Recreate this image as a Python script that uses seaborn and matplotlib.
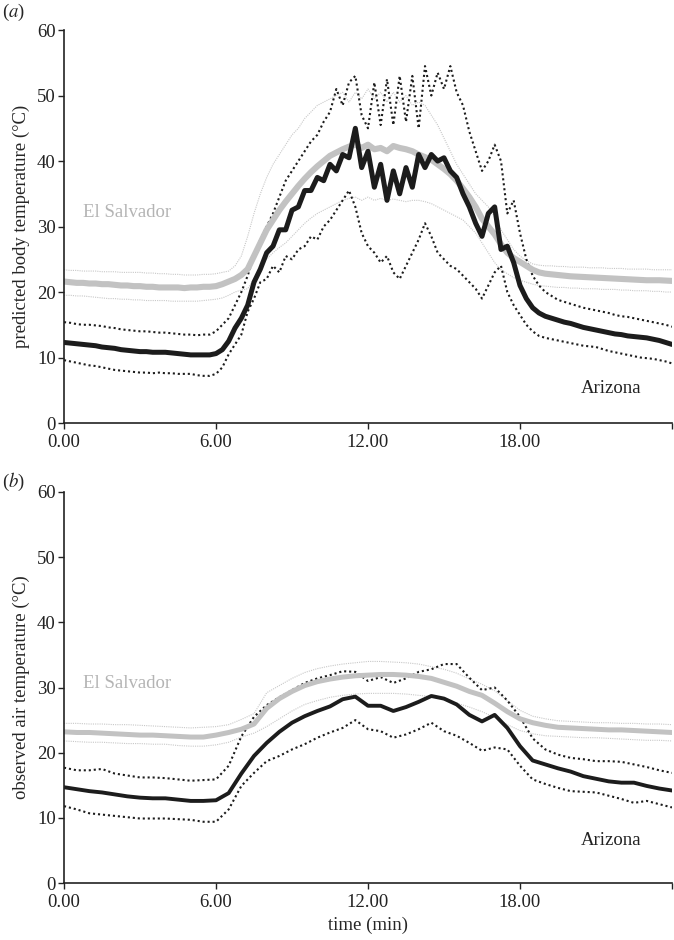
import numpy as np
import pandas as pd
import matplotlib
matplotlib.use("Agg")
import matplotlib.pyplot as plt
from matplotlib import font_manager
import seaborn as sns

# ── time grids (hours) ─────────────────────────
hours_a = np.arange(0, 24.01, 0.25)
hours_b = np.arange(0, 24.01, 0.5)

# ── (a) predicted body temperature ─────────────
az_mean_a = [12.3, 12.2, 12.1, 12.0, 11.9, 11.8, 11.6, 11.5, 11.4, 11.2, 11.1, 11.0,
             10.9, 10.9, 10.8, 10.8, 10.8, 10.7, 10.6, 10.5, 10.4, 10.4, 10.4, 10.4,
             10.6, 11.2, 12.5, 14.5, 16.0, 18.0, 21.5, 23.5, 26.0, 27.0, 29.5, 29.5,
             32.5, 33.0, 35.5, 35.5, 37.5, 37.0, 39.5, 38.5, 41.0, 40.5, 45.0, 39.0,
             41.5, 36.0, 39.5, 34.0, 38.5, 35.0, 39.0, 36.0, 41.0, 39.0, 41.0, 40.0,
             40.5, 38.5, 37.5, 35.0, 33.0, 30.5, 28.5, 32.0, 33.0, 26.5, 27.0, 24.5,
             21.0, 19.0, 17.6, 16.8, 16.3, 16.0, 15.7, 15.4, 15.2, 14.9, 14.6, 14.4,
             14.2, 14.0, 13.8, 13.6, 13.5, 13.3, 13.2, 13.1, 13.0, 12.8, 12.6, 12.3, 12.0]
az_hi_a = [15.4, 15.3, 15.1, 15.0, 15.0, 14.9, 14.8, 14.6, 14.5, 14.3, 14.2, 14.1,
           14.0, 14.0, 13.9, 13.8, 13.8, 13.7, 13.6, 13.5, 13.5, 13.4, 13.5, 13.5,
           14.0, 15.0, 16.0, 18.0, 20.0, 22.5, 25.5, 28.0, 30.0, 32.0, 34.5, 37.0,
           38.5, 40.0, 41.5, 43.0, 44.0, 46.0, 47.5, 51.0, 48.5, 52.0, 53.0, 47.0,
           45.0, 52.0, 45.5, 52.5, 45.5, 53.0, 46.0, 53.0, 45.0, 54.5, 50.0, 53.5,
           51.0, 54.5, 50.5, 48.5, 44.5, 41.5, 38.5, 40.0, 42.5, 40.0, 32.0, 34.0,
           29.0, 25.0, 22.5, 21.0, 20.0, 19.4, 18.8, 18.5, 18.2, 17.9, 17.6, 17.4,
           17.2, 17.0, 16.8, 16.5, 16.3, 16.2, 16.0, 15.8, 15.6, 15.4, 15.2, 15.0, 14.7]
az_lo_a = [9.6, 9.4, 9.2, 9.0, 8.8, 8.7, 8.5, 8.3, 8.1, 8.0, 7.9, 7.8,
           7.7, 7.7, 7.6, 7.7, 7.6, 7.6, 7.5, 7.5, 7.5, 7.3, 7.2, 7.2,
           7.5, 8.5, 10.5, 12.0, 13.5, 17.0, 19.0, 21.5, 22.0, 24.0, 23.0, 25.5,
           25.0, 26.5, 27.0, 28.5, 28.0, 30.0, 31.0, 32.5, 34.0, 35.5, 33.0, 29.0,
           27.0, 26.0, 24.5, 25.5, 23.0, 22.0, 24.0, 26.0, 28.0, 30.5, 28.5, 26.0,
           25.0, 24.0, 23.5, 22.5, 21.5, 20.5, 19.0, 21.0, 23.0, 24.0, 20.0, 18.0,
           16.5, 15.0, 14.0, 13.3, 13.0, 12.8, 12.6, 12.4, 12.2, 12.0, 11.8, 11.7,
           11.6, 11.3, 11.0, 10.8, 10.6, 10.4, 10.2, 10.0, 9.9, 9.8, 9.6, 9.4, 9.1]
es_mean_a = [21.6, 21.5, 21.4, 21.4, 21.3, 21.3, 21.2, 21.2, 21.1, 21.0, 21.0, 20.9,
             20.9, 20.8, 20.8, 20.7, 20.7, 20.7, 20.7, 20.6, 20.7, 20.7, 20.8, 20.8,
             20.9, 21.2, 21.6, 22.0, 22.6, 23.5, 25.5, 27.5, 29.5, 31.0, 32.5, 33.8,
             35.0, 36.2, 37.3, 38.3, 39.2, 40.0, 40.8, 41.3, 41.8, 42.2, 42.5, 42.0,
             42.5, 41.8, 42.0, 41.5, 42.3, 42.0, 41.8, 41.5, 41.0, 40.6, 40.2, 39.5,
             38.8, 38.0, 37.0, 35.8, 34.5, 33.0, 31.2, 30.0, 28.8, 27.3, 26.0, 25.2,
             24.6, 24.0, 23.4, 23.0, 22.8, 22.7, 22.6, 22.5, 22.4, 22.35, 22.3, 22.25,
             22.2, 22.15, 22.1, 22.05, 22.0, 21.95, 21.9, 21.85, 21.8, 21.8, 21.8, 21.75, 21.7]
es_hi_a = [23.4, 23.3, 23.3, 23.2, 23.2, 23.2, 23.1, 23.1, 23.1, 23.0, 23.0, 23.0,
           23.0, 22.9, 22.9, 22.8, 22.8, 22.7, 22.7, 22.6, 22.6, 22.6, 22.7, 22.7,
           22.8, 23.0, 23.2, 24.0, 25.5, 28.5, 32.0, 35.0, 37.5, 39.5, 41.0, 42.5,
           44.0, 45.0, 46.5, 47.5, 48.5, 49.0, 49.5, 50.0, 50.5, 49.0, 50.5, 49.5,
           51.0, 49.5, 50.5, 49.0, 50.5, 49.0, 50.0, 48.5, 49.0, 48.5, 47.0, 45.5,
           43.5, 41.5, 39.5, 38.0, 36.5, 35.0, 34.0, 33.0, 31.5, 29.5, 28.0, 26.5,
           25.5, 24.8, 24.3, 24.1, 24.0, 24.0, 23.9, 23.9, 23.8, 23.8, 23.8, 23.7,
           23.7, 23.7, 23.6, 23.6, 23.6, 23.5, 23.5, 23.5, 23.5, 23.4, 23.4, 23.4, 23.4]
es_lo_a = [19.5, 19.5, 19.4, 19.4, 19.3, 19.2, 19.1, 19.0, 19.0, 18.9, 18.9, 18.8,
           18.8, 18.7, 18.7, 18.7, 18.7, 18.6, 18.6, 18.6, 18.6, 18.6, 18.7, 18.8,
           18.9, 19.1, 19.5, 20.0, 20.3, 20.5, 22.0, 23.5, 25.0, 26.0, 26.8, 27.5,
           28.5, 29.5, 30.5, 31.3, 32.0, 32.5, 33.0, 33.5, 34.0, 34.3, 34.5, 34.0,
           34.5, 34.0, 34.3, 34.0, 34.2, 34.0, 33.8, 34.0, 34.0, 33.8, 33.5, 33.0,
           32.5, 32.0, 31.5, 31.0, 30.0, 29.0, 27.5, 26.0, 24.5, 23.4, 22.8, 22.2,
           21.8, 21.5, 21.2, 21.0, 20.9, 20.8, 20.7, 20.7, 20.6, 20.6, 20.5, 20.5,
           20.5, 20.4, 20.4, 20.4, 20.3, 20.3, 20.2, 20.2, 20.2, 20.1, 20.1, 20.0, 20.0]

# ── (b) observed air temperature ───────────────
az_mean_b = [14.7, 14.4, 14.1, 13.9, 13.6, 13.3, 13.1, 13.0, 13.0, 12.8, 12.6, 12.6,
             12.7, 13.8, 16.8, 19.5, 21.5, 23.2, 24.6, 25.6, 26.4, 27.1, 28.2, 28.6,
             27.2, 27.2, 26.4, 27.0, 27.8, 28.7, 28.3, 27.4, 25.8, 24.8, 25.8, 23.8,
             21.0, 18.8, 18.2, 17.6, 17.1, 16.4, 16.0, 15.6, 15.4, 15.4, 14.9, 14.5, 14.2]
az_hi_b = [17.7, 17.3, 17.3, 17.5, 16.8, 16.5, 16.2, 16.2, 16.1, 15.9, 15.7, 15.8,
           15.9, 18.0, 22.5, 25.5, 27.3, 28.5, 29.6, 30.7, 31.4, 31.9, 32.5, 32.4,
           31.0, 31.6, 30.7, 31.4, 32.4, 32.8, 33.6, 33.6, 31.5, 29.6, 30.0, 28.0,
           25.5, 22.2, 20.5, 19.7, 19.2, 19.0, 18.7, 18.7, 18.6, 18.2, 17.8, 17.3, 16.9]
az_lo_b = [11.8, 11.3, 10.7, 10.5, 10.3, 10.1, 9.9, 9.9, 9.9, 9.8, 9.7, 9.4,
           9.4, 11.3, 14.9, 16.9, 18.7, 19.5, 20.5, 21.3, 22.3, 23.1, 23.8, 25.0,
           23.6, 23.3, 22.3, 22.8, 23.6, 24.6, 23.3, 22.6, 21.5, 20.3, 20.8, 20.5,
           18.0, 15.9, 15.2, 14.6, 14.1, 14.0, 13.9, 13.4, 12.9, 12.3, 12.6, 12.1, 11.6]
es_mean_b = [23.2, 23.1, 23.1, 23.0, 22.9, 22.8, 22.7, 22.7, 22.6, 22.5, 22.4, 22.4,
             22.7, 23.1, 23.6, 24.4, 26.8, 28.3, 29.4, 30.3, 30.9, 31.3, 31.6, 31.8,
             31.9, 32.0, 32.0, 31.9, 31.7, 31.4, 30.8, 30.2, 29.4, 28.8, 27.6, 26.3,
             25.2, 24.6, 24.2, 23.9, 23.8, 23.7, 23.6, 23.5, 23.5, 23.4, 23.3, 23.2, 23.1]
es_hi_b = [24.5, 24.5, 24.4, 24.4, 24.3, 24.3, 24.2, 24.1, 24.0, 23.9, 23.8, 23.9,
           24.0, 24.3, 25.1, 26.0, 29.2, 30.3, 31.4, 32.3, 32.9, 33.3, 33.6, 33.8,
           34.0, 34.0, 33.9, 33.8, 33.6, 33.2, 32.8, 32.2, 31.3, 30.5, 29.5, 28.0,
           26.5, 25.6, 25.2, 24.9, 24.8, 24.7, 24.6, 24.6, 24.5, 24.5, 24.4, 24.4, 24.3]
es_lo_b = [21.8, 21.7, 21.6, 21.6, 21.5, 21.4, 21.4, 21.3, 21.3, 21.1, 21.0, 21.0,
           21.2, 21.6, 22.4, 23.0, 24.0, 25.2, 26.4, 27.4, 28.0, 28.5, 28.8, 29.0,
           29.1, 29.1, 29.1, 29.0, 28.8, 28.6, 28.1, 27.6, 27.0, 26.3, 25.4, 24.3,
           23.4, 22.9, 22.6, 22.5, 22.4, 22.3, 22.3, 22.2, 22.1, 22.0, 21.9, 21.9, 21.8]

xticks      = [0, 6, 12, 18, 24]
xticklabels = ["0.00", "6.00", "12.00", "18.00", ""]
yticks      = [0, 10, 20, 30, 40, 50, 60]

GREY_THICK = "#c2c2c2"
GREY_THIN  = "#c8c8c8"
GREY_TEXT  = "#b4b4b4"
INK        = "#1c1c1c"

sns.set_style("ticks")

# pick a Times-like serif that is actually installed
installed = {f.name for f in font_manager.fontManager.ttflist}
serif = next((n for n in ["Liberation Serif", "Times New Roman", "Nimbus Roman",
                          "TeX Gyre Termes", "STIXGeneral"] if n in installed),
             "DejaVu Serif")
plt.rcParams["font.family"] = [serif, "DejaVu Serif"]
plt.rcParams["mathtext.fontset"] = "stix"
FS = 13.5

fig = plt.figure(figsize=(6.74, 9.4), dpi=100)
ax_a = fig.add_axes([0.095, 0.550, 0.902, 0.418])
ax_b = fig.add_axes([0.095, 0.0606, 0.902, 0.416])


def draw_panel(ax, hours, az_m, az_h, az_l, es_m, es_h, es_l, lw_mean):
    for s in (es_h, es_l):
        sns.lineplot(x=hours, y=s, ax=ax, color=GREY_THIN, lw=0.8,
                     linestyle=(0, (1, 1)), estimator=None)
    for s in (az_h, az_l):
        sns.lineplot(x=hours, y=s, ax=ax, color=INK, lw=1.5,
                     linestyle=(0, (1, 1.4)), estimator=None)
    sns.lineplot(x=hours, y=es_m, ax=ax, color=GREY_THICK, lw=lw_mean + 0.8,
                 estimator=None)
    sns.lineplot(x=hours, y=az_m, ax=ax, color=INK, lw=lw_mean,
                 estimator=None)

    ax.set_xlim(0, 24)
    ax.set_ylim(0, 60)
    ax.set_xticks(xticks)
    ax.set_xticklabels(xticklabels)
    ax.set_yticks(yticks)
    ax.tick_params(axis="both", labelsize=FS, length=4, width=1,
                   colors="#222222", direction="out")
    ax.tick_params(axis="y", pad=2)
    ax.tick_params(axis="x", pad=4)
    for sp in ("top", "right"):
        ax.spines[sp].set_visible(False)
    for sp in ("left", "bottom"):
        ax.spines[sp].set_linewidth(1.2)
        ax.spines[sp].set_color("#222222")


draw_panel(ax_a, hours_a, az_mean_a, az_hi_a, az_lo_a,
           es_mean_a, es_hi_a, es_lo_a, 3.6)
draw_panel(ax_b, hours_b, az_mean_b, az_hi_b, az_lo_b,
           es_mean_b, es_hi_b, es_lo_b, 2.8)

ax_a.set_ylabel("predicted body temperature (°C)", fontsize=FS, labelpad=5)
ax_b.set_ylabel("observed air temperature (°C)", fontsize=FS, labelpad=5)
ax_a.set_xlabel("")
ax_b.set_xlabel("time (min)", fontsize=FS, labelpad=4)

ax_a.text(2.5, 32.2, "El Salvador", color=GREY_TEXT, fontsize=FS,
          ha="center", va="center")
ax_a.text(21.6, 5.3, "Arizona", color="#222222", fontsize=FS,
          ha="center", va="center")
ax_b.text(2.5, 30.6, "El Salvador", color=GREY_TEXT, fontsize=FS,
          ha="center", va="center")
ax_b.text(21.6, 6.6, "Arizona", color="#222222", fontsize=FS,
          ha="center", va="center")

fig.text(0.003, 0.987, r"($\it{a}$)", fontsize=FS, ha="left", va="center")
fig.text(0.003, 0.487, r"($\it{b}$)", fontsize=FS, ha="left", va="center")

fig.savefig("out.png", dpi=100)
